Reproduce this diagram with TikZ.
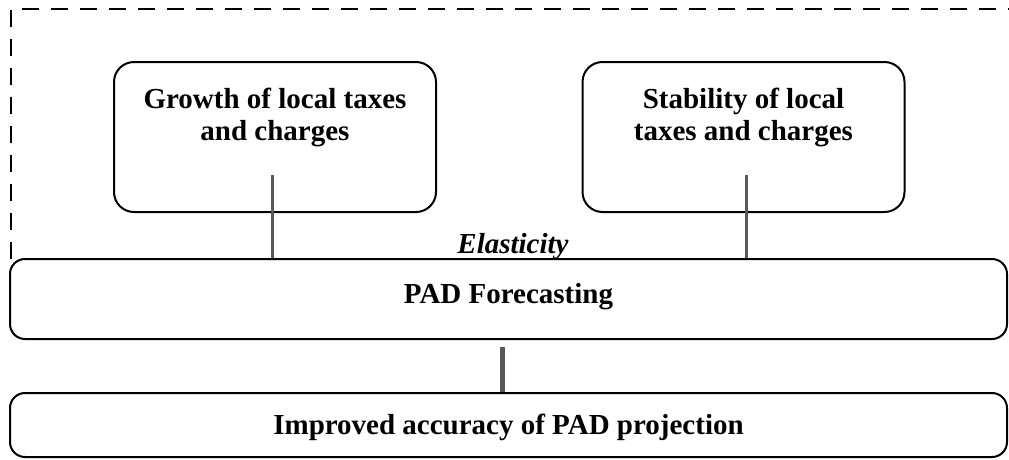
\documentclass[tikz,border=0pt]{standalone}
\usepackage{fontspec}
\setmainfont{Liberation Serif}

\begin{document}
\begin{tikzpicture}[x=1pt,y=-1pt,
  box/.style={draw,line width=2pt,rounded corners=20pt,fill=white,minimum width=322pt,minimum height=150pt},
  wide/.style={draw,line width=2pt,rounded corners=15pt,fill=white,minimum width=997pt,inner sep=0pt,font=\fontsize{29}{32}\selectfont\bfseries},
  lbl/.style={align=center,inner sep=0pt,minimum height=116pt,font=\fontsize{29}{32}\selectfont\bfseries},
  link/.style={draw=black!65,line width=3pt}]
  \useasboundingbox (0,0) rectangle (1009,459);
  \draw[line width=2pt,dash pattern=on 17pt off 12pt] (11,259) -- (11,9) -- (1009,9);
  \node[box] (growth) at (275,137) {};
  \node[box] (stability) at (743.5,137) {};
  \node[lbl] (growthtxt) at (275,117) {Growth of local taxes\\and charges};
  \node[lbl] (stabilitytxt) at (743.5,117) {Stability of local\\taxes and charges};
  \node[wide,minimum height=80pt,text height=20pt,text depth=12pt] (pad) at (508.5,299) {PAD Forecasting};
  \node[wide,minimum height=64pt,text height=22pt,text depth=3pt] (improved) at (508.5,425) {Improved accuracy of PAD projection};
  \node[font=\fontsize{29}{32}\selectfont\bfseries\itshape,anchor=base] (elasticity) at (513,253) {Elasticity};
  \draw[link] ([xshift=-3pt]growthtxt.south) -- ([xshift=-3pt]growthtxt.south |- pad.north);
  \draw[link] ([xshift=3pt]stabilitytxt.south) -- ([xshift=3pt]stabilitytxt.south |- pad.north);
  \draw[link,line width=5pt,shorten <=7pt] ([xshift=-6pt]pad.south) -- ([xshift=-6pt]improved.north);
\end{tikzpicture}
\end{document}
